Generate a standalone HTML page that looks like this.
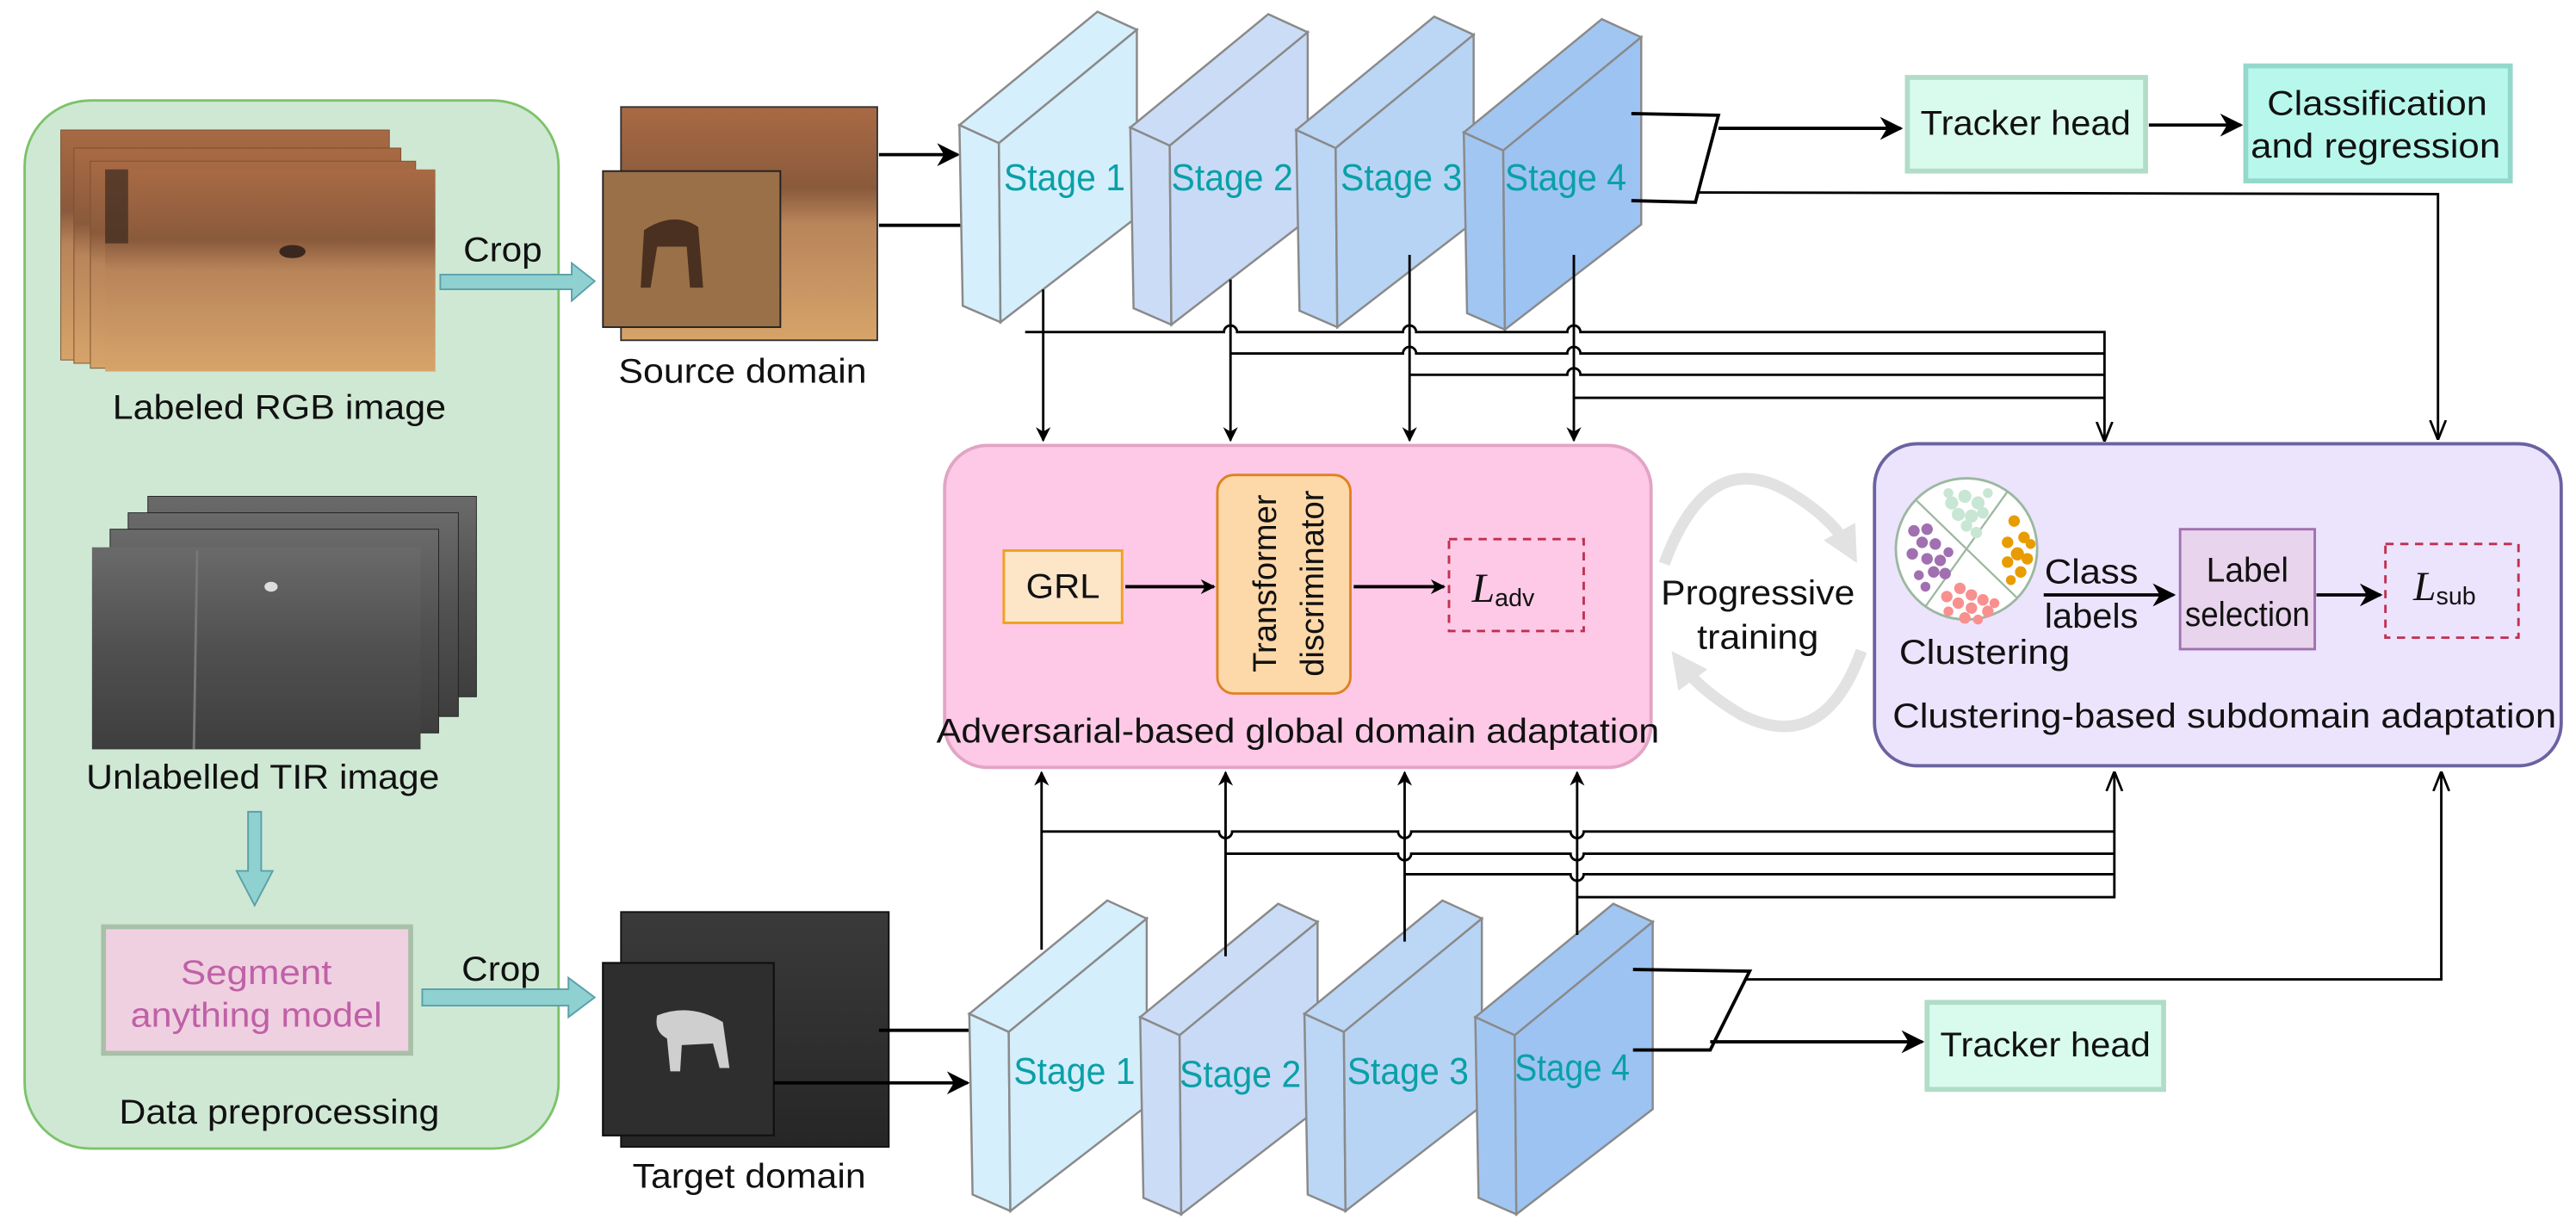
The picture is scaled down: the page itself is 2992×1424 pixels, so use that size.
<!DOCTYPE html>
<html><head><meta charset="utf-8"><style>
html,body{margin:0;padding:0;background:#fff;}
svg{display:block;}
text{font-family:"Liberation Sans",Arial,sans-serif;fill:#111;}
.st{fill:#0aa0a8;font-size:23px;}
.lb{font-size:21px;}
</style></head><body>
<svg width="2992" height="1424" viewBox="0 0 1568 746" xmlns="http://www.w3.org/2000/svg">
<defs>
<marker id="fa" viewBox="0 0 10 10" refX="9" refY="5" markerWidth="9" markerHeight="9" orient="auto" markerUnits="userSpaceOnUse"><path d="M0,0 L10,5 L0,10 L3,5 z" fill="#000"/></marker>
<marker id="fb" viewBox="0 0 10 10" refX="9" refY="5" markerWidth="14" markerHeight="14" orient="auto" markerUnits="userSpaceOnUse"><path d="M0,0 L10,5 L0,10 L3,5 z" fill="#000"/></marker>
<marker id="oa" viewBox="0 0 10 10" refX="9.5" refY="5" markerWidth="12" markerHeight="12" orient="auto" markerUnits="userSpaceOnUse"><path d="M0,1 L10,5 L0,9" fill="none" stroke="#000" stroke-width="1.2"/></marker>
<marker id="ga" viewBox="0 0 10 10" refX="5" refY="5" markerWidth="22" markerHeight="22" orient="auto" markerUnits="userSpaceOnUse"><path d="M0,0 L10,5 L0,10 z" fill="#e2e2e2"/></marker>
<linearGradient id="rgb" x1="0" y1="0" x2="0" y2="1"><stop offset="0" stop-color="#a86a44"/><stop offset="0.35" stop-color="#8a5a3c"/><stop offset="0.5" stop-color="#b8845a"/><stop offset="1" stop-color="#d6a46a"/></linearGradient>
<linearGradient id="tir" x1="0" y1="0" x2="0" y2="1"><stop offset="0" stop-color="#6a6a6a"/><stop offset="0.5" stop-color="#505050"/><stop offset="1" stop-color="#3e3e3e"/></linearGradient>
<linearGradient id="tgt" x1="0" y1="0" x2="0" y2="1"><stop offset="0" stop-color="#3a3a3a"/><stop offset="1" stop-color="#262626"/></linearGradient>
</defs>

<rect x="15" y="61" width="325" height="638" rx="40" fill="#cfe8d4" stroke="#7cc36a" stroke-width="1.5"/>
<rect x="37" y="79" width="200" height="140" fill="url(#rgb)" stroke="#7a5030" stroke-width="0.5"/>
<rect x="45" y="90" width="199" height="131" fill="url(#rgb)" stroke="#7a5030" stroke-width="0.5"/>
<rect x="55" y="98" width="198" height="126" fill="url(#rgb)" stroke="#7a5030" stroke-width="0.5"/>
<rect x="64" y="103" width="201" height="123" fill="url(#rgb)"/>
<rect x="64" y="103" width="14" height="45" fill="#3a2a20" opacity="0.7"/>
<ellipse cx="178" cy="153" rx="8" ry="4" fill="#3a2820"/>
<text class="lb" x="170" y="248" text-anchor="middle" dominant-baseline="central" textLength="203" lengthAdjust="spacingAndGlyphs">Labeled RGB image</text>
<path d="M268,167 L348,167 L348,160 L362,171 L348,183 L348,176 L268,176 z" fill="#8fd0d0" stroke="#5aa0a8" stroke-width="1"/>
<text class="lb" x="306" y="152" text-anchor="middle" dominant-baseline="central" textLength="48" lengthAdjust="spacingAndGlyphs">Crop</text>
<rect x="90" y="302" width="200" height="122" fill="url(#tir)" stroke="#222" stroke-width="0.5"/>
<rect x="78" y="312" width="201" height="124" fill="url(#tir)" stroke="#222" stroke-width="0.5"/>
<rect x="67" y="322" width="200" height="124" fill="url(#tir)" stroke="#222" stroke-width="0.5"/>
<rect x="56" y="333" width="200" height="123" fill="url(#tir)"/>
<line x1="120" y1="335" x2="118" y2="456" stroke="#777" stroke-width="1.5"/>
<ellipse cx="165" cy="357" rx="4" ry="3" fill="#ddd"/>
<text class="lb" x="160" y="473" text-anchor="middle" dominant-baseline="central" textLength="215" lengthAdjust="spacingAndGlyphs">Unlabelled TIR image</text>
<path d="M151,494 L159,494 L159,530 L166,530 L155,551 L144,530 L151,530 z" fill="#8fd0d0" stroke="#5aa0a8" stroke-width="1"/>
<rect x="63" y="564" width="187" height="77" fill="#efd0e0" stroke="#a8c0a8" stroke-width="3"/>
<text x="156" y="592" text-anchor="middle" dominant-baseline="central" style="fill:#c060a8;font-size:21px" textLength="92" lengthAdjust="spacingAndGlyphs">Segment</text>
<text x="156" y="618" text-anchor="middle" dominant-baseline="central" style="fill:#c060a8;font-size:21px" textLength="153" lengthAdjust="spacingAndGlyphs">anything model</text>
<path d="M257,602 L346,602 L346,595 L362,607 L346,619 L346,612 L257,612 z" fill="#8fd0d0" stroke="#5aa0a8" stroke-width="1"/>
<text class="lb" x="305" y="590" text-anchor="middle" dominant-baseline="central" textLength="48" lengthAdjust="spacingAndGlyphs">Crop</text>
<text class="lb" x="170" y="677" text-anchor="middle" dominant-baseline="central" textLength="195" lengthAdjust="spacingAndGlyphs">Data preprocessing</text>

<rect x="378" y="65" width="156" height="142" fill="url(#rgb)" stroke="#333" stroke-width="1"/>
<rect x="367" y="104" width="108" height="95" fill="#9a7048" stroke="#222" stroke-width="1"/>
<path d="M392,140 Q410,128 425,138 L428,175 L420,175 L418,150 L400,150 L396,175 L390,175 z" fill="#4a3020"/>
<text class="lb" x="452" y="226" text-anchor="middle" dominant-baseline="central" textLength="151" lengthAdjust="spacingAndGlyphs">Source domain</text>
<rect x="378" y="555" width="163" height="143" fill="url(#tgt)" stroke="#111" stroke-width="1"/>
<rect x="367" y="586" width="104" height="105" fill="#2e2e2e" stroke="#111" stroke-width="1.2"/>
<path d="M400,618 Q420,610 440,622 L444,650 L438,650 L434,635 L415,636 L414,652 L408,652 L406,632 Q398,628 400,618 z" fill="#cfcfcf"/>
<text class="lb" x="456" y="716" text-anchor="middle" dominant-baseline="central" textLength="142" lengthAdjust="spacingAndGlyphs">Target domain</text>

<line x1="535" y1="94" x2="583" y2="94" stroke="#000" stroke-width="2" marker-end="url(#fb)"/>
<line x1="535" y1="137" x2="585" y2="137" stroke="#000" stroke-width="2"/>
<line x1="535" y1="627" x2="591" y2="627" stroke="#000" stroke-width="2"/>
<line x1="471" y1="659" x2="589" y2="659" stroke="#000" stroke-width="2" marker-end="url(#fb)"/>

<g stroke="#8a8a8a" stroke-width="1.3">
<g transform="translate(0,0)"><polygon points="584,76 668,7 692,18 608,87" fill="#d6effc"/><polygon points="584,76 608,87 609,196 586,186" fill="#d6effc"/><polygon points="608,87 692,18 692,132 609,196" fill="#d4eefb"/></g>
<g transform="translate(104,1.5)"><polygon points="584,76 668,7 692,18 608,87" fill="#cbdcf6"/><polygon points="584,76 608,87 609,196 586,186" fill="#cbdcf6"/><polygon points="608,87 692,18 692,132 609,196" fill="#c8daf5"/></g>
<g transform="translate(205,3)"><polygon points="584,76 668,7 692,18 608,87" fill="#bcd6f5"/><polygon points="584,76 608,87 609,196 586,186" fill="#bcd6f5"/><polygon points="608,87 692,18 692,132 609,196" fill="#b8d4f4"/></g>
<g transform="translate(307,4.5)"><polygon points="584,76 668,7 692,18 608,87" fill="#a2c6f2"/><polygon points="584,76 608,87 609,196 586,186" fill="#a2c6f2"/><polygon points="608,87 692,18 692,132 609,196" fill="#9cc3f2"/></g>
</g>
<text class="st" x="648" y="108" text-anchor="middle" dominant-baseline="central" textLength="74" lengthAdjust="spacingAndGlyphs">Stage 1</text>
<text class="st" x="750" y="108" text-anchor="middle" dominant-baseline="central" textLength="74" lengthAdjust="spacingAndGlyphs">Stage 2</text>
<text class="st" x="853" y="108" text-anchor="middle" dominant-baseline="central" textLength="74" lengthAdjust="spacingAndGlyphs">Stage 3</text>
<text class="st" x="953" y="108" text-anchor="middle" dominant-baseline="central" textLength="74" lengthAdjust="spacingAndGlyphs">Stage 4</text>

<g stroke="#8a8a8a" stroke-width="1.3">
<g transform="translate(6,541)"><polygon points="584,76 668,7 692,18 608,87" fill="#d6effc"/><polygon points="584,76 608,87 609,196 586,186" fill="#d6effc"/><polygon points="608,87 692,18 692,132 609,196" fill="#d4eefb"/></g>
<g transform="translate(110,543)"><polygon points="584,76 668,7 692,18 608,87" fill="#cbdcf6"/><polygon points="584,76 608,87 609,196 586,186" fill="#cbdcf6"/><polygon points="608,87 692,18 692,132 609,196" fill="#c8daf5"/></g>
<g transform="translate(210,541)"><polygon points="584,76 668,7 692,18 608,87" fill="#bcd6f5"/><polygon points="584,76 608,87 609,196 586,186" fill="#bcd6f5"/><polygon points="608,87 692,18 692,132 609,196" fill="#b8d4f4"/></g>
<g transform="translate(314,543)"><polygon points="584,76 668,7 692,18 608,87" fill="#a2c6f2"/><polygon points="584,76 608,87 609,196 586,186" fill="#a2c6f2"/><polygon points="608,87 692,18 692,132 609,196" fill="#9cc3f2"/></g>
</g>
<text class="st" x="654" y="652" text-anchor="middle" dominant-baseline="central" textLength="74" lengthAdjust="spacingAndGlyphs">Stage 1</text>
<text class="st" x="755" y="654" text-anchor="middle" dominant-baseline="central" textLength="74" lengthAdjust="spacingAndGlyphs">Stage 2</text>
<text class="st" x="857" y="652" text-anchor="middle" dominant-baseline="central" textLength="74" lengthAdjust="spacingAndGlyphs">Stage 3</text>
<text class="st" x="957" y="650" text-anchor="middle" dominant-baseline="central" textLength="70" lengthAdjust="spacingAndGlyphs">Stage 4</text>

<path d="M993,69 L1046,70 L1032,123 L993,122" fill="none" stroke="#000" stroke-width="2"/>
<line x1="1046" y1="78" x2="1157" y2="78" stroke="#000" stroke-width="2" marker-end="url(#fb)"/>
<path d="M1034,117 L1484,118 L1484,267" fill="none" stroke="#000" stroke-width="1.5" marker-end="url(#oa)"/>
<rect x="1161" y="47" width="145" height="57" fill="#d8fbee" stroke="#b0dcc8" stroke-width="3"/>
<text class="lb" x="1233" y="75" text-anchor="middle" dominant-baseline="central" textLength="128" lengthAdjust="spacingAndGlyphs">Tracker head</text>
<line x1="1308" y1="76" x2="1364" y2="76" stroke="#000" stroke-width="2" marker-end="url(#fb)"/>
<rect x="1367" y="40" width="161" height="70" fill="#b8f8ec" stroke="#94d8cc" stroke-width="3"/>
<text class="lb" x="1447" y="63" text-anchor="middle" dominant-baseline="central" textLength="134" lengthAdjust="spacingAndGlyphs">Classification</text>
<text class="lb" x="1446" y="89" text-anchor="middle" dominant-baseline="central" textLength="152" lengthAdjust="spacingAndGlyphs">and regression</text>

<g fill="none" stroke="#000" stroke-width="1.5">
<path d="M624,202 L745,202 A4,4 0 0 1 753,202 L854,202 A4,4 0 0 1 862,202 L954,202 A4,4 0 0 1 962,202 L1281,202 L1281,268" marker-end="url(#oa)"/>
<path d="M749,215 L854,215 A4,4 0 0 1 862,215 L954,215 A4,4 0 0 1 962,215 L1281,215"/>
<path d="M858,228 L954,228 A4,4 0 0 1 962,228 L1281,228"/>
<path d="M958,242 L1281,242"/>
<line x1="635" y1="176" x2="635" y2="268" marker-end="url(#fa)"/>
<line x1="749" y1="170" x2="749" y2="268" marker-end="url(#fa)"/>
<line x1="858" y1="155" x2="858" y2="268" marker-end="url(#fa)"/>
<line x1="958" y1="155" x2="958" y2="268" marker-end="url(#fa)"/>
</g>

<g fill="none" stroke="#000" stroke-width="1.5">
<path d="M634,506 L742,506 A4,4 0 0 0 750,506 L851,506 A4,4 0 0 0 859,506 L956,506 A4,4 0 0 0 964,506 L1287,506"/>
<path d="M746,519.5 L851,519.5 A4,4 0 0 0 859,519.5 L956,519.5 A4,4 0 0 0 964,519.5 L1287,519.5"/>
<path d="M855,532 L956,532 A4,4 0 0 0 964,532 L1287,532"/>
<path d="M960,546 L1287,546 L1287,470" marker-end="url(#oa)"/>
<line x1="634" y1="578" x2="634" y2="470" marker-end="url(#fa)"/>
<line x1="746" y1="582" x2="746" y2="470" marker-end="url(#fa)"/>
<line x1="855" y1="573" x2="855" y2="470" marker-end="url(#fa)"/>
<line x1="960" y1="569" x2="960" y2="470" marker-end="url(#fa)"/>
</g>

<path d="M994,590 L1065,591 L1041,639 L994,639" fill="none" stroke="#000" stroke-width="2"/>
<path d="M1063,596 L1486,596 L1486,470" fill="none" stroke="#000" stroke-width="1.5" marker-end="url(#oa)"/>
<line x1="1041" y1="634" x2="1170" y2="634" stroke="#000" stroke-width="2" marker-end="url(#fb)"/>
<rect x="1173" y="610" width="144" height="53" fill="#d8fbee" stroke="#b0dcc8" stroke-width="3"/>
<text class="lb" x="1245" y="636" text-anchor="middle" dominant-baseline="central" textLength="128" lengthAdjust="spacingAndGlyphs">Tracker head</text>

<rect x="575" y="271" width="430" height="196" rx="26" fill="#fdc9e6" stroke="#e2a4c4" stroke-width="2"/>
<rect x="611" y="335" width="72" height="44" fill="#fde5c8" stroke="#f0a020" stroke-width="1.5"/>
<text class="lb" x="647" y="357" text-anchor="middle" dominant-baseline="central" textLength="45" lengthAdjust="spacingAndGlyphs">GRL</text>
<line x1="685" y1="357" x2="739" y2="357" stroke="#000" stroke-width="2" marker-end="url(#fa)"/>
<rect x="741" y="289" width="81" height="133" rx="10" fill="#fdd8a8" stroke="#e08020" stroke-width="1.5"/>
<text x="770" y="355" text-anchor="middle" dominant-baseline="central" transform="rotate(-90 770 355)" style="font-size:20px">Transformer</text>
<text x="799" y="355" text-anchor="middle" dominant-baseline="central" transform="rotate(-90 799 355)" style="font-size:20px">discriminator</text>
<line x1="824" y1="357" x2="879" y2="357" stroke="#000" stroke-width="2" marker-end="url(#fa)"/>
<rect x="882" y="328" width="82" height="56" fill="none" stroke="#c03050" stroke-width="1.5" stroke-dasharray="5,4"/>
<text x="915" y="358" text-anchor="middle" dominant-baseline="central" style="font-family:'Liberation Serif',serif;font-style:italic;font-size:25px">L<tspan dy="6" style="font-family:'Liberation Sans',sans-serif;font-style:normal;font-size:15px">adv</tspan></text>
<text class="lb" x="790" y="445" text-anchor="middle" dominant-baseline="central" textLength="440" lengthAdjust="spacingAndGlyphs">Adversarial-based global domain adaptation</text>

<path d="M1013,343 Q1040,270 1090,300 Q1115,315 1125,333" fill="none" stroke="#e2e2e2" stroke-width="7" marker-end="url(#ga)"/>
<path d="M1133,396 Q1110,460 1060,435 Q1035,420 1024,405" fill="none" stroke="#e2e2e2" stroke-width="7" marker-end="url(#ga)"/>
<text class="lb" x="1070" y="361" text-anchor="middle" dominant-baseline="central" textLength="118" lengthAdjust="spacingAndGlyphs">Progressive</text>
<text class="lb" x="1070" y="388" text-anchor="middle" dominant-baseline="central" textLength="74" lengthAdjust="spacingAndGlyphs">training</text>

<rect x="1141" y="270" width="418" height="196" rx="26" fill="#ebe4fc" stroke="#6a62a0" stroke-width="2"/>
<circle cx="1197" cy="334" r="43" fill="#fff" stroke="#9cb8a0" stroke-width="1.5"/>
<g stroke="#9cb8a0" stroke-width="1.2"><line x1="1166" y1="304" x2="1228" y2="364"/><line x1="1222" y1="299" x2="1172" y2="369"/></g>
<g fill="#c8e6d4"><circle cx="1188" cy="306" r="4"/><circle cx="1196" cy="302" r="4"/><circle cx="1204" cy="306" r="4"/><circle cx="1192" cy="313" r="4"/><circle cx="1200" cy="314" r="4"/><circle cx="1207" cy="312" r="3.5"/><circle cx="1197" cy="320" r="3.5"/><circle cx="1203" cy="324" r="3.5"/><circle cx="1186" cy="300" r="3"/><circle cx="1210" cy="300" r="3"/></g>
<g fill="#a070b0"><circle cx="1165" cy="323" r="3.5"/><circle cx="1173" cy="322" r="3.5"/><circle cx="1170" cy="330" r="3.5"/><circle cx="1178" cy="331" r="3.5"/><circle cx="1164" cy="337" r="3.5"/><circle cx="1173" cy="340" r="3.5"/><circle cx="1181" cy="341" r="3.5"/><circle cx="1186" cy="336" r="3"/><circle cx="1177" cy="348" r="3.5"/><circle cx="1168" cy="350" r="3"/><circle cx="1184" cy="349" r="3.5"/><circle cx="1172" cy="357" r="3"/></g>
<g fill="#e89c00"><circle cx="1226" cy="317" r="3.5"/><circle cx="1232" cy="327" r="3.5"/><circle cx="1222" cy="330" r="3.5"/><circle cx="1228" cy="337" r="4"/><circle cx="1234" cy="340" r="3.5"/><circle cx="1222" cy="342" r="3.5"/><circle cx="1230" cy="348" r="3.5"/><circle cx="1224" cy="353" r="3"/><circle cx="1236" cy="331" r="3"/></g>
<g fill="#f89090"><circle cx="1185" cy="363" r="3.5"/><circle cx="1193" cy="358" r="3.5"/><circle cx="1200" cy="362" r="3.5"/><circle cx="1207" cy="365" r="3.5"/><circle cx="1192" cy="367" r="3.5"/><circle cx="1200" cy="370" r="3.5"/><circle cx="1210" cy="372" r="3.5"/><circle cx="1186" cy="372" r="3"/><circle cx="1196" cy="376" r="3.5"/><circle cx="1204" cy="377" r="3"/><circle cx="1214" cy="367" r="3"/></g>
<text class="lb" x="1208" y="397" text-anchor="middle" dominant-baseline="central" textLength="104" lengthAdjust="spacingAndGlyphs">Clustering</text>
<text class="lb" x="1273" y="348" text-anchor="middle" dominant-baseline="central" textLength="57" lengthAdjust="spacingAndGlyphs">Class</text>
<text class="lb" x="1273" y="375" text-anchor="middle" dominant-baseline="central" textLength="57" lengthAdjust="spacingAndGlyphs">labels</text>
<line x1="1244" y1="362" x2="1323" y2="362" stroke="#000" stroke-width="2" marker-end="url(#fb)"/>
<rect x="1327" y="322" width="82" height="73" fill="#e8d4ec" stroke="#a070b0" stroke-width="1.5"/>
<text class="lb" x="1368" y="347" text-anchor="middle" dominant-baseline="central" textLength="50" lengthAdjust="spacingAndGlyphs">Label</text>
<text class="lb" x="1368" y="374" text-anchor="middle" dominant-baseline="central" textLength="76" lengthAdjust="spacingAndGlyphs">selection</text>
<line x1="1410" y1="362" x2="1449" y2="362" stroke="#000" stroke-width="2" marker-end="url(#fb)"/>
<rect x="1452" y="331" width="81" height="57" fill="none" stroke="#c03050" stroke-width="1.5" stroke-dasharray="5,4"/>
<text x="1488" y="357" text-anchor="middle" dominant-baseline="central" style="font-family:'Liberation Serif',serif;font-style:italic;font-size:25px">L<tspan dy="6" style="font-family:'Liberation Sans',sans-serif;font-style:normal;font-size:15px">sub</tspan></text>
<text class="lb" x="1354" y="436" text-anchor="middle" dominant-baseline="central" textLength="404" lengthAdjust="spacingAndGlyphs">Clustering-based subdomain adaptation</text>
</svg>
</body></html>
